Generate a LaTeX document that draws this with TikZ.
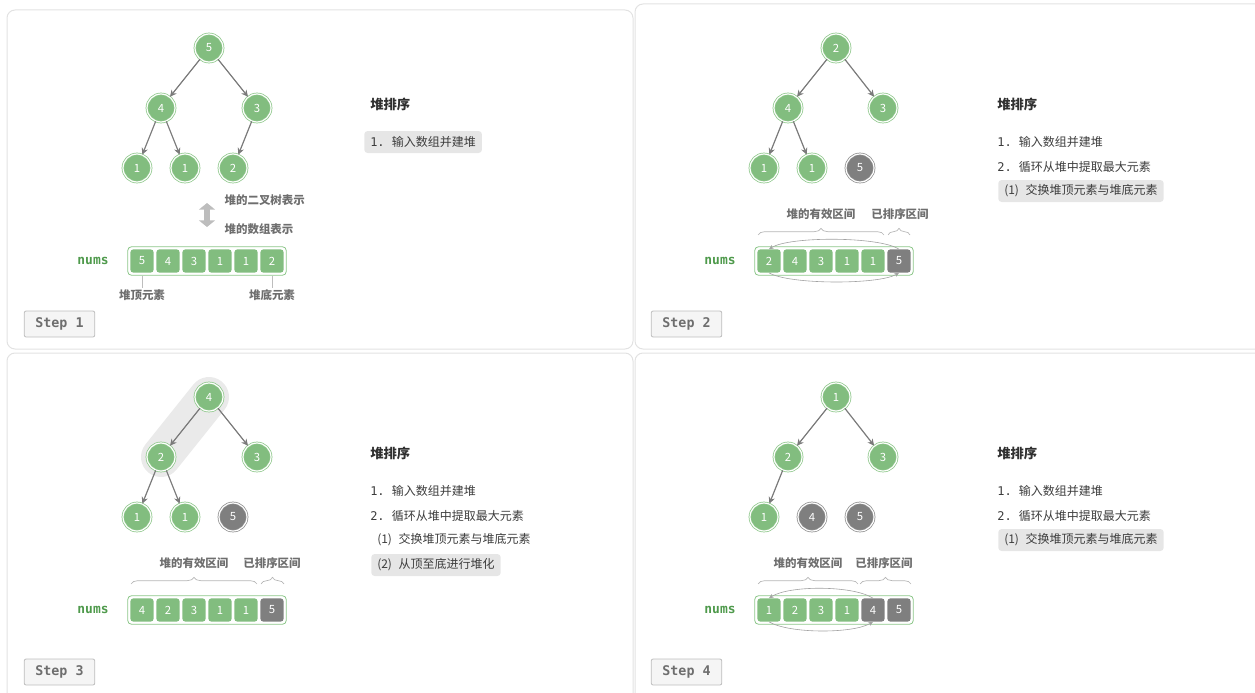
\documentclass[tikz,border=0pt]{standalone}
\usepackage{fontspec}
\setmainfont{Noto Sans CJK SC}
\setmonofont{DejaVu Sans Mono}
\usepackage{tikz}
\usetikzlibrary{arrows.meta}
\usetikzlibrary{fit}
\usetikzlibrary{decorations.pathreplacing}

\definecolor{nodegreen}{HTML}{82BD7F}
\definecolor{ringgreen}{HTML}{8CC689}
\definecolor{nodegray}{HTML}{7F7F7F}
\definecolor{ringgray}{HTML}{8E8E8E}
\definecolor{edgegray}{HTML}{7A7A7A}
\definecolor{notegray}{HTML}{6E6E6E}
\definecolor{numsgreen}{HTML}{4F9A4C}
\definecolor{hlgray}{HTML}{E6E6E6}
\definecolor{panelline}{HTML}{E2E2E2}
\definecolor{bandgray}{HTML}{EAEAEA}
\definecolor{btnfill}{HTML}{F5F5F5}
\definecolor{btnline}{HTML}{BDBDBD}
\definecolor{btntext}{HTML}{6E6E6E}
\definecolor{arrowlight}{HTML}{BDBDBD}
\definecolor{bracegray}{HTML}{B5B5B5}
\definecolor{titlegray}{HTML}{303030}
\definecolor{itemgray}{HTML}{3C3C3C}

\begin{document}
\begin{tikzpicture}[
    x=0.75pt,
    y=-0.75pt,
    >=Stealth,
    every node/.style={font=\fontsize{9}{11}\selectfont},
    panel/.style={draw=panelline, line width=0.75pt, rounded corners=6pt},
    heapnode/.style={circle, fill=nodegreen, draw=ringgreen, double=white,
        double distance=0.9pt, line width=0.55pt, minimum size=21pt,
        inner sep=0pt, text=white, font=\fontsize{8.5}{9}\selectfont},
    donenode/.style={heapnode, fill=nodegray, draw=ringgray},
    treeedge/.style={draw=edgegray, line width=0.9pt,
        -{Stealth[length=5pt,width=4.8pt]}},
    cell/.style={rectangle, rounded corners=2pt, fill=nodegreen,
        minimum width=17.3pt, minimum height=17.3pt, inner sep=0pt,
        text=white, font=\fontsize{8.5}{9}\selectfont},
    donecell/.style={cell, fill=nodegray},
    arrbox/.style={draw=ringgreen, line width=0.6pt, rounded corners=3pt,
        inner sep=1.9pt},
    pointer/.style={draw=btnline, line width=0.5pt},
    swaparrow/.style={draw=edgegray!70, line width=0.45pt,
        -{Stealth[length=3.5pt,width=3pt]}},
    curlybrace/.style={draw=bracegray, line width=0.5pt, decorate,
        decoration={brace, amplitude=5pt}},
    dblarrow/.style={draw=arrowlight, line width=5pt,
        {Triangle[length=5pt,width=12pt]}-{Triangle[length=5pt,width=12pt]}},
    band/.style={draw=bandgray, line width=30pt, line cap=round},
    notelabel/.style={inner sep=1pt, text=notegray,
        font=\bfseries\fontsize{8.6}{10}\selectfont},
    numslabel/.style={text=numsgreen,
        font=\ttfamily\bfseries\fontsize{9.7}{11}\selectfont},
    stepbtn/.style={draw=btnline, fill=btnfill, rounded corners=1.5pt,
        line width=0.6pt, minimum width=53pt, minimum height=19.5pt,
        text=btntext, font=\ttfamily\bfseries\fontsize{10}{12}\selectfont},
    titletext/.style={anchor=west, inner sep=0pt, text=titlegray,
        font=\bfseries\fontsize{10}{12}\selectfont},
    itemtext/.style={anchor=west, inner xsep=4.5pt, inner ysep=0pt,
        minimum height=16.5pt, rounded corners=2.5pt, text=itemgray},
    itemhl/.style={itemtext, fill=hlgray}
]

%------------------------------------------------------------
% Canvas and panels
%------------------------------------------------------------

\useasboundingbox (0,0) rectangle (1255,692);

\draw[panel] (7,10) rectangle (633,349);
\draw[panel] (635,4) rectangle (1268,349);
\draw[panel] (7,353) rectangle (633,705);
\draw[panel] (635,353) rectangle (1268,705);

%------------------------------------------------------------
% Step 1
%------------------------------------------------------------

\begin{scope}

% tree
\node[heapnode] (p1n1) at (209,48) {5};
\node[heapnode] (p1n2) at (161,108) {4};
\node[heapnode] (p1n3) at (257,108) {3};
\node[heapnode] (p1n4) at (137,168) {1};
\node[heapnode] (p1n5) at (185,168) {1};
\node[heapnode] (p1n6) at (233,168) {2};

\draw[treeedge] (p1n1) -- (p1n2);
\draw[treeedge] (p1n1) -- (p1n3);
\draw[treeedge] (p1n2) -- (p1n4);
\draw[treeedge] (p1n2) -- (p1n5);
\draw[treeedge] (p1n3) -- (p1n6);

% tree <-> array
\coordinate (p1up) at (207,203);
\coordinate (p1down) at (207,227);
\draw[dblarrow] (p1up) -- (p1down);

\node[notelabel, anchor=west] (p1astree) at (223,200) {堆的二叉树表示};
\node[notelabel, anchor=west] (p1asarray) at (223,229) {堆的数组表示};

% array
\node[numslabel] (p1nums) at (93,261) {nums};
\foreach \v [count=\i] in {5,4,3,1,1,2}
    \node[cell] (p1c\i) at (116+26*\i,261) {\v};
\node[arrbox, fit=(p1c1)(p1c6)] (p1box) {};

\node[notelabel] (p1top) at (142,295) {堆顶元素};
\node[notelabel] (p1bottom) at (272,295) {堆底元素};
\draw[pointer] (p1box.south -| p1c1) -- (p1top.north);
\draw[pointer] (p1box.south -| p1c6) -- (p1bottom.north);

% step
\node[stepbtn] (p1step) at (59.5,324) {Step 1};

% text
\node[titletext] (p1title) at (370,104) {堆排序};
\node[itemhl] (p1s1) at (364,142) {{\ttfamily 1. }输入数组并建堆};

\end{scope}

%------------------------------------------------------------
% Step 2
%------------------------------------------------------------

\begin{scope}[shift={(627,0)}]

% tree
\node[heapnode] (p2n1) at (209,48) {2};
\node[heapnode] (p2n2) at (161,108) {4};
\node[heapnode] (p2n3) at (256,108) {3};
\node[heapnode] (p2n4) at (137,168) {1};
\node[heapnode] (p2n5) at (185,168) {1};
\node[donenode] (p2n6) at (233,168) {5};

\draw[treeedge] (p2n1) -- (p2n2);
\draw[treeedge] (p2n1) -- (p2n3);
\draw[treeedge] (p2n2) -- (p2n4);
\draw[treeedge] (p2n2) -- (p2n5);

% ranges
\node[notelabel] (p2heap) at (194,214) {堆的有效区间};
\node[notelabel] (p2sorted) at (273,214) {已排序区间};

\coordinate (p2b1) at (131,235);
\coordinate (p2b2) at (257,235);
\coordinate (p2b3) at (261,235);
\coordinate (p2b4) at (283,235);
\draw[curlybrace] (p2b1) -- (p2b2);
\draw[curlybrace] (p2b3) -- (p2b4);

% array
\node[numslabel] (p2nums) at (93,261) {nums};
\foreach \v/\s [count=\i] in {2/cell,4/cell,3/cell,1/cell,1/cell,5/donecell}
    \node[\s] (p2c\i) at (116+26*\i,261) {\v};
\node[arrbox, fit=(p2c1)(p2c6)] (p2box) {};

% swap
\draw[swaparrow] (p2c6.north) .. controls +(-20,-13) and +(20,-13) .. (p2c1.north);
\draw[swaparrow] (p2c1.south) .. controls +(20,12) and +(-20,12) .. (p2c6.south);

% step
\node[stepbtn] (p2step) at (59.5,324) {Step 2};

% text
\node[titletext] (p2title) at (370,104) {堆排序};
\node[itemtext] (p2s1) at (364,142) {{\ttfamily 1. }输入数组并建堆};
\node[itemtext] (p2s2) at (364,167) {{\ttfamily 2. }循环从堆中提取最大元素};
\node[itemhl] (p2s21) at (371,191) {(1)\hspace{5pt}交换堆顶元素与堆底元素};

\end{scope}

%------------------------------------------------------------
% Step 3
%------------------------------------------------------------

\begin{scope}[shift={(0,349)}]

% sift-down path
\coordinate (p3top) at (209,48);
\coordinate (p3mid) at (161,108);
\draw[band] (p3top) -- (p3mid);

% tree
\node[heapnode] (p3n1) at (p3top) {4};
\node[heapnode] (p3n2) at (p3mid) {2};
\node[heapnode] (p3n3) at (257,108) {3};
\node[heapnode] (p3n4) at (137,168) {1};
\node[heapnode] (p3n5) at (185,168) {1};
\node[donenode] (p3n6) at (233,168) {5};

\draw[treeedge] (p3n1) -- (p3n2);
\draw[treeedge] (p3n1) -- (p3n3);
\draw[treeedge] (p3n2) -- (p3n4);
\draw[treeedge] (p3n2) -- (p3n5);

% ranges
\node[notelabel] (p3heap) at (194,214) {堆的有效区间};
\node[notelabel] (p3sorted) at (272,214) {已排序区间};

\coordinate (p3b1) at (131,235);
\coordinate (p3b2) at (257,235);
\coordinate (p3b3) at (261,235);
\coordinate (p3b4) at (284,235);
\draw[curlybrace] (p3b1) -- (p3b2);
\draw[curlybrace] (p3b3) -- (p3b4);

% array
\node[numslabel] (p3nums) at (93,261) {nums};
\foreach \v/\s [count=\i] in {4/cell,2/cell,3/cell,1/cell,1/cell,5/donecell}
    \node[\s] (p3c\i) at (116+26*\i,261) {\v};
\node[arrbox, fit=(p3c1)(p3c6)] (p3box) {};

% step
\node[stepbtn] (p3step) at (59.5,323) {Step 3};

% text
\node[titletext] (p3title) at (370,104) {堆排序};
\node[itemtext] (p3s1) at (364,142) {{\ttfamily 1. }输入数组并建堆};
\node[itemtext] (p3s2) at (364,167) {{\ttfamily 2. }循环从堆中提取最大元素};
\node[itemtext] (p3s21) at (371,191) {(1)\hspace{5pt}交换堆顶元素与堆底元素};
\node[itemhl] (p3s22) at (371,216) {(2)\hspace{5pt}从顶至底进行堆化};

\end{scope}

%------------------------------------------------------------
% Step 4
%------------------------------------------------------------

\begin{scope}[shift={(627,349)}]

% tree
\node[heapnode] (p4n1) at (209,48) {1};
\node[heapnode] (p4n2) at (161,108) {2};
\node[heapnode] (p4n3) at (256,108) {3};
\node[heapnode] (p4n4) at (137,168) {1};
\node[donenode] (p4n5) at (185,168) {4};
\node[donenode] (p4n6) at (233,168) {5};

\draw[treeedge] (p4n1) -- (p4n2);
\draw[treeedge] (p4n1) -- (p4n3);
\draw[treeedge] (p4n2) -- (p4n4);

% ranges
\node[notelabel] (p4heap) at (181,214) {堆的有效区间};
\node[notelabel] (p4sorted) at (257,214) {已排序区间};

\coordinate (p4b1) at (131,235);
\coordinate (p4b2) at (231,235);
\coordinate (p4b3) at (233,235);
\coordinate (p4b4) at (284,235);
\draw[curlybrace] (p4b1) -- (p4b2);
\draw[curlybrace] (p4b3) -- (p4b4);

% array
\node[numslabel] (p4nums) at (93,261) {nums};
\foreach \v/\s [count=\i] in {1/cell,2/cell,3/cell,1/cell,4/donecell,5/donecell}
    \node[\s] (p4c\i) at (116+26*\i,261) {\v};
\node[arrbox, fit=(p4c1)(p4c6)] (p4box) {};

% swap
\draw[swaparrow] (p4c5.north) .. controls +(-20,-13) and +(20,-13) .. (p4c1.north);
\draw[swaparrow] (p4c1.south) .. controls +(20,12) and +(-20,12) .. (p4c5.south);

% step
\node[stepbtn] (p4step) at (59.5,323) {Step 4};

% text
\node[titletext] (p4title) at (370,104) {堆排序};
\node[itemtext] (p4s1) at (364,142) {{\ttfamily 1. }输入数组并建堆};
\node[itemtext] (p4s2) at (364,167) {{\ttfamily 2. }循环从堆中提取最大元素};
\node[itemhl] (p4s21) at (371,191) {(1)\hspace{5pt}交换堆顶元素与堆底元素};

\end{scope}

\end{tikzpicture}
\end{document}
